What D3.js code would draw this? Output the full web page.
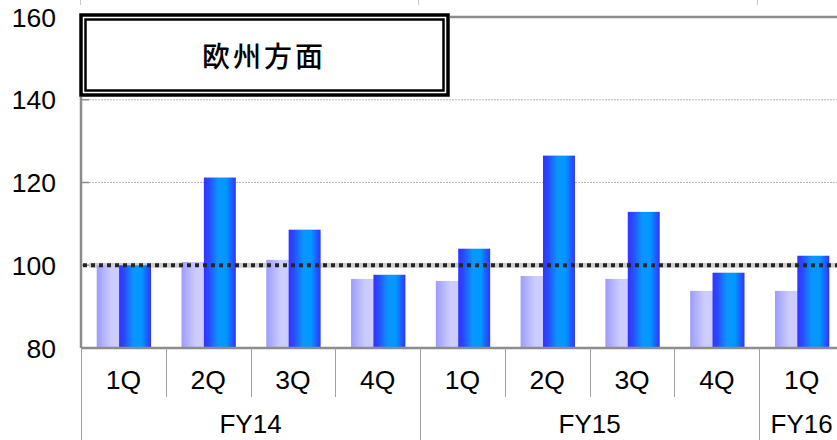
<!DOCTYPE html>
<html>
<head>
<meta charset="utf-8">
<script src="https://cdn.jsdelivr.net/npm/d3@7"></script>
<style>
  html, body { margin: 0; padding: 0; background: #fff; }
  svg { display: block; }
  text { font-family: "Liberation Sans", Arial, sans-serif; fill: #000; }
</style>
</head>
<body>
<svg id="chart" width="837" height="440"></svg>
<script>
// Quarterly index (base = 100), Europe region
const quarters = ["1Q", "2Q", "3Q", "4Q", "1Q", "2Q", "3Q", "4Q", "1Q"];
const fiscalYears = [
  { label: "FY14", start: 0, count: 4 },
  { label: "FY15", start: 4, count: 4 },
  { label: "FY16", start: 8, count: 1 }
];
const seriesLight = [100, 100.8, 101.3, 96.7, 96.2, 97.4, 96.7, 93.8, 93.8];
const seriesDark  = [100, 121.2, 108.6, 97.7, 104.0, 126.5, 112.9, 98.2, 102.3];
const yTicks = [80, 100, 120, 140, 160];
const referenceLevel = 100;
const title = "欧州方面";

const svg = d3.select("#chart");
const defs = svg.append("defs");

// Horizontal gradients for the two bar series
function gradient(id, stops) {
  const g = defs.append("linearGradient").attr("id", id)
    .attr("x1", "0%").attr("x2", "100%").attr("y1", "0%").attr("y2", "0%");
  stops.forEach(([o, c]) => g.append("stop").attr("offset", o).attr("stop-color", c));
}
gradient("gLight", [[0, "#9c9cff"], [0.45, "#ccccff"], [0.75, "#ccccff"], [1, "#a6a6ff"]]);
gradient("gDark", [[0, "#3333ff"], [0.15, "#2a48ff"], [0.45, "#0a96ff"], [0.7, "#0099ff"], [0.9, "#2255ff"], [1, "#3333ff"]]);

const plotLeft = 81, plotRight = 844, plotTop = 17, plotBottom = 348;

const x = d3.scaleBand().domain(d3.range(quarters.length)).range([plotLeft, plotRight]).padding(0);
const y = d3.scaleLinear().domain([80, 160]).range([plotBottom, plotTop]);

const bw = x.bandwidth();
const barW = bw * 0.377;
const overlap = barW * 0.3;
const groupW = 2 * barW - overlap;

// Gridlines (behind bars)
svg.append("g").selectAll("line")
  .data(yTicks.filter(t => t > 80 && t < 160))
  .join("line")
  .attr("x1", plotLeft + 8).attr("x2", 837)
  .attr("y1", d => y(d)).attr("y2", d => y(d))
  .attr("stroke", d => d === referenceLevel ? "#cfcfcf" : "#b8b8b8")
  .attr("stroke-width", d => d === referenceLevel ? 5 : 1)
  .attr("stroke-dasharray", d => d === referenceLevel ? null : "2,1");

// Bars
const bars = svg.append("g");
bars.selectAll("rect.light")
  .data(seriesLight)
  .join("rect")
  .attr("class", "light")
  .attr("x", (d, i) => x(i) + bw / 2 - groupW / 2 + 0.5)
  .attr("width", barW)
  .attr("y", d => y(d))
  .attr("height", d => y(80) - y(d))
  .attr("fill", "url(#gLight)");

bars.selectAll("rect.dark")
  .data(seriesDark)
  .join("rect")
  .attr("class", "dark")
  .attr("x", (d, i) => x(i) + bw / 2 - groupW / 2 + 0.5 + barW - overlap)
  .attr("width", barW)
  .attr("y", d => y(d))
  .attr("height", d => y(80) - y(d))
  .attr("fill", "url(#gDark)");

// Plot frame: top border, y axis, x axis
svg.append("line").attr("x1", plotLeft).attr("x2", 837).attr("y1", plotTop).attr("y2", plotTop)
  .attr("stroke", "#8c8c8c").attr("stroke-width", 2.5);
svg.append("line").attr("x1", plotLeft).attr("x2", plotLeft).attr("y1", plotTop).attr("y2", plotBottom)
  .attr("stroke", "#8c8c8c").attr("stroke-width", 2.5);
svg.append("line").attr("x1", plotLeft).attr("x2", 837).attr("y1", plotBottom).attr("y2", plotBottom)
  .attr("stroke", "#8c8c8c").attr("stroke-width", 2.5);

// Inward tick marks on the y axis
svg.append("g").selectAll("line")
  .data(yTicks.filter(t => t > 80 && t < 160))
  .join("line")
  .attr("x1", plotLeft).attr("x2", plotLeft + 8)
  .attr("y1", d => y(d)).attr("y2", d => y(d))
  .attr("stroke", "#8c8c8c").attr("stroke-width", 1.5);

// Y tick labels
svg.append("g").selectAll("text")
  .data(yTicks)
  .join("text")
  .attr("x", 56).attr("y", d => y(d))
  .attr("dy", "0.36em")
  .attr("text-anchor", "end")
  .style("font-size", "26.5px")
  .text(d => d);

// Reference line at 100
svg.append("line")
  .attr("x1", plotLeft + 2).attr("x2", 837)
  .attr("y1", y(referenceLevel)).attr("y2", y(referenceLevel))
  .attr("stroke", "#262626").attr("stroke-width", 4)
  .attr("stroke-dasharray", "4,4");

// Category separators: short ones between quarters, long ones between fiscal years
const yearStarts = new Set(fiscalYears.map(f => f.start));
svg.append("g").selectAll("line")
  .data(d3.range(quarters.length))
  .join("line")
  .attr("x1", i => Math.round(x(i)) + 0.5).attr("x2", i => Math.round(x(i)) + 0.5)
  .attr("y1", plotBottom)
  .attr("y2", i => yearStarts.has(i) ? 440 : 397)
  .attr("stroke", "#a0a0a0").attr("stroke-width", 1);

// Quarter labels
svg.append("g").selectAll("text")
  .data(quarters)
  .join("text")
  .attr("x", (d, i) => x(i) + bw / 2)
  .attr("y", 389)
  .attr("text-anchor", "middle")
  .style("font-size", "26.5px")
  .text(d => d);

// Fiscal year labels
svg.append("g").selectAll("text")
  .data(fiscalYears)
  .join("text")
  .attr("x", f => (x(f.start) + x(f.start + f.count - 1) + bw) / 2)
  .attr("y", 433)
  .attr("text-anchor", "middle")
  .style("font-size", "26px")
  .text(f => f.label);

// Tails of separators from the panel above
svg.append("g").selectAll("line")
  .data([80.5, 418.5, 757.5])
  .join("line")
  .attr("x1", d => d).attr("x2", d => d)
  .attr("y1", 0).attr("y2", 5)
  .attr("stroke", "#c8c8c8").attr("stroke-width", 1);

// Title box with double border
const box = svg.append("g");
box.append("rect").attr("x", 79).attr("y", 13).attr("width", 371).attr("height", 84)
  .attr("fill", "#fff");
box.append("rect").attr("x", 81).attr("y", 15).attr("width", 367).attr("height", 80)
  .attr("fill", "none").attr("stroke", "#000").attr("stroke-width", 3.5);
box.append("rect").attr("x", 85.5).attr("y", 19.5).attr("width", 358).attr("height", 71)
  .attr("fill", "none").attr("stroke", "#000").attr("stroke-width", 2.5);
box.append("text")
  .attr("x", 264).attr("y", 67)
  .attr("text-anchor", "middle")
  .style("font-family", "'Noto Sans CJK JP', 'Noto Sans CJK SC', sans-serif")
  .style("font-size", "28px")
  .style("font-weight", "500")
  .style("letter-spacing", "3px")
  .text(title);
</script>
</body>
</html>
